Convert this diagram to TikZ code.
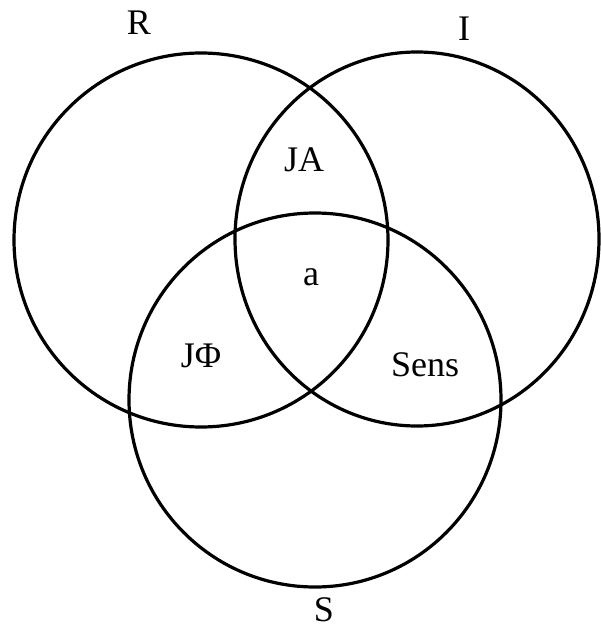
\documentclass[tikz,border=0pt]{standalone}
\usepackage{fontspec}
\setmainfont{Liberation Serif}
\begin{document}
\begin{tikzpicture}[x=1pt,y=-1pt,
  ring/.style={draw=black,line width=3.2pt},
  lbl/.style={anchor=base,inner sep=0pt,font=\fontsize{36}{40}\selectfont}]
\useasboundingbox (0,0) rectangle (600,628);
\draw[ring] (201,240) ellipse [x radius=187,y radius=187];
\draw[ring] (417,239) ellipse [x radius=182,y radius=187];
\draw[ring] (315,400) ellipse [x radius=186,y radius=187];
\node[lbl] (r) at (139,35) {R};
\node[lbl] (i) at (464,41) {I};
\node[lbl] (ja) at (304,172) {JA};
\node[lbl] (a) at (311,285) {a};
\node[lbl] (jf) at (201,367) {JΦ};
\node[lbl] (sens) at (425,376) {Sens};
\node[lbl] (s) at (324,621) {S};
\end{tikzpicture}
\end{document}
